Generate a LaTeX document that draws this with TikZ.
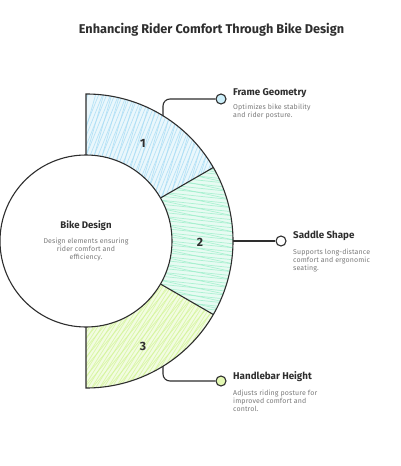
\documentclass[tikz,border=0pt]{standalone}
\usepackage{fontspec}
\setmainfont{Fira Sans}
\usetikzlibrary{calc}
\definecolor{ink}{HTML}{2E2E2E}
\definecolor{blueh}{HTML}{A9DDF5}
\definecolor{greenh}{HTML}{9EEFCB}
\definecolor{limeh}{HTML}{D4F59A}
\definecolor{descc}{HTML}{7A7A7A}
\definecolor{bluem}{HTML}{CDEFFA}
\definecolor{limem}{HTML}{E4F9B4}
\newcommand{\descfont}{\fontsize{7}{8}\selectfont\addfontfeatures{LetterSpace=2}}
\tikzset{
  outline/.style={draw=ink, line width=1.1pt},
  hatch/.style={line width=0.7pt, opacity=0.8},
  marker/.style={circle, draw=ink, line width=1.1pt, minimum size=10pt, inner sep=0pt},
  conn/.style={draw=ink, line width=1.1pt, rounded corners=7pt},
  numlabel/.style={font=\bfseries\fontsize{12}{14}\selectfont, text=ink},
  headtxt/.style={font=\bfseries\fontsize{9.8}{11}\selectfont, text=ink, anchor=west, inner sep=0pt},
  desctxt/.style={font=\descfont, text=descc, align=left, anchor=north west, inner sep=0pt},
}
\begin{document}
\begin{tikzpicture}[x=1pt,y=1pt]
\useasboundingbox (0,0) rectangle (400,-466);
\fill[white] (0,0) rectangle (400,-466);

% title
\node[font=\bfseries\fontsize{12.7}{14}\selectfont, text=ink] (title) at (211.5,-30) {Enhancing Rider Comfort Through Bike Design};

% sector 1 hatch
\begin{scope}
\clip[shift={(86,-241)}] (90:147) arc[start angle=90,end angle=30,radius=147] -- (30:86) arc[start angle=30,end angle=90,radius=86] -- cycle;
\fill[blueh!25] (80,-85) rectangle (240,-210);
\foreach \i in {0,...,45} \draw[blueh, hatch] (40+\i*4,-240) -- ++(68:170);
\foreach \i in {0,...,22} \draw[blueh, hatch] (30+\i*8,-240) -- ++(74:170);
\end{scope}
% sector 2 hatch
\begin{scope}
\clip[shift={(86,-241)}] (30:147) arc[start angle=30,end angle=-30,radius=147] -- (-30:86) arc[start angle=-30,end angle=30,radius=86] -- cycle;
\fill[greenh!25] (150,-160) rectangle (240,-320);
\foreach \i in {0,...,45} \draw[greenh, hatch] (140,-150-\i*4) -- ++(-6:110);
\foreach \i in {0,...,22} \draw[greenh, hatch] (140,-140-\i*8) -- ++(-12:110);
\end{scope}
% sector 3 hatch
\begin{scope}
\clip[shift={(86,-241)}] (-30:147) arc[start angle=-30,end angle=-90,radius=147] -- (-90:86) arc[start angle=-90,end angle=-30,radius=86] -- cycle;
\fill[limeh!30] (80,-270) rectangle (240,-395);
\foreach \i in {0,...,50} \draw[limeh, hatch] (20+\i*4,-400) -- ++(58:170);
\foreach \i in {0,...,25} \draw[limeh, hatch] (10+\i*8,-400) -- ++(50:170);
\end{scope}

% ring outline
\draw[outline, shift={(86,-241)}] (90:86) -- (90:147) arc[start angle=90,end angle=-90,radius=147] -- (-90:86);
\draw[outline, shift={(86,-241)}] (30:86) -- (30:147);
\draw[outline, shift={(86,-241)}] (-30:86) -- (-30:147);

% hub
\node[circle, draw=ink, fill=white, line width=1.1pt, minimum size=172pt, inner sep=0pt] (hub) at (86,-241) {};
\node[font=\bfseries\fontsize{9.6}{11}\selectfont, text=ink] (hubt) at (86,-226) {Bike Design};
\node[font=\descfont, text=descc, align=center, anchor=north, inner sep=0pt] (hubd) at (86,-237.5) {Design elements ensuring\\rider comfort and\\efficiency.};

% numbers
\node[numlabel] (n1) at (143,-143) {1};
\node[numlabel] (n2) at (200,-242) {2};
\node[numlabel] (n3) at (143,-346) {3};

% connectors and markers
\coordinate (fgA) at (163,-116);
\node[marker, fill=bluem] (fgM) at (221,-99) {};
\draw[conn] (fgA) |- (fgM);

\coordinate (ssA) at (233,-241);
\node[marker, fill=white] (ssM) at (281,-241) {};
\draw[conn] (ssA) -- (ssM);

\coordinate (hhA) at (163,-366);
\node[marker, fill=limem] (hhM) at (221,-381) {};
\draw[conn] (hhA) |- (hhM);

% labels
\node[headtxt] (fgT) at (233,-93) {Frame Geometry};
\node[desctxt] (fgD) at (233,-104) {Optimizes bike stability\\and rider posture.};

\node[headtxt] (ssT) at (293,-236) {Saddle Shape};
\node[desctxt] (ssD) at (293,-249) {Supports long-distance\\comfort and ergonomic\\seating.};

\node[headtxt] (hhT) at (233,-377) {Handlebar Height};
\node[desctxt] (hhD) at (233,-390) {Adjusts riding posture for\\improved comfort and\\control.};
\end{tikzpicture}
\end{document}
